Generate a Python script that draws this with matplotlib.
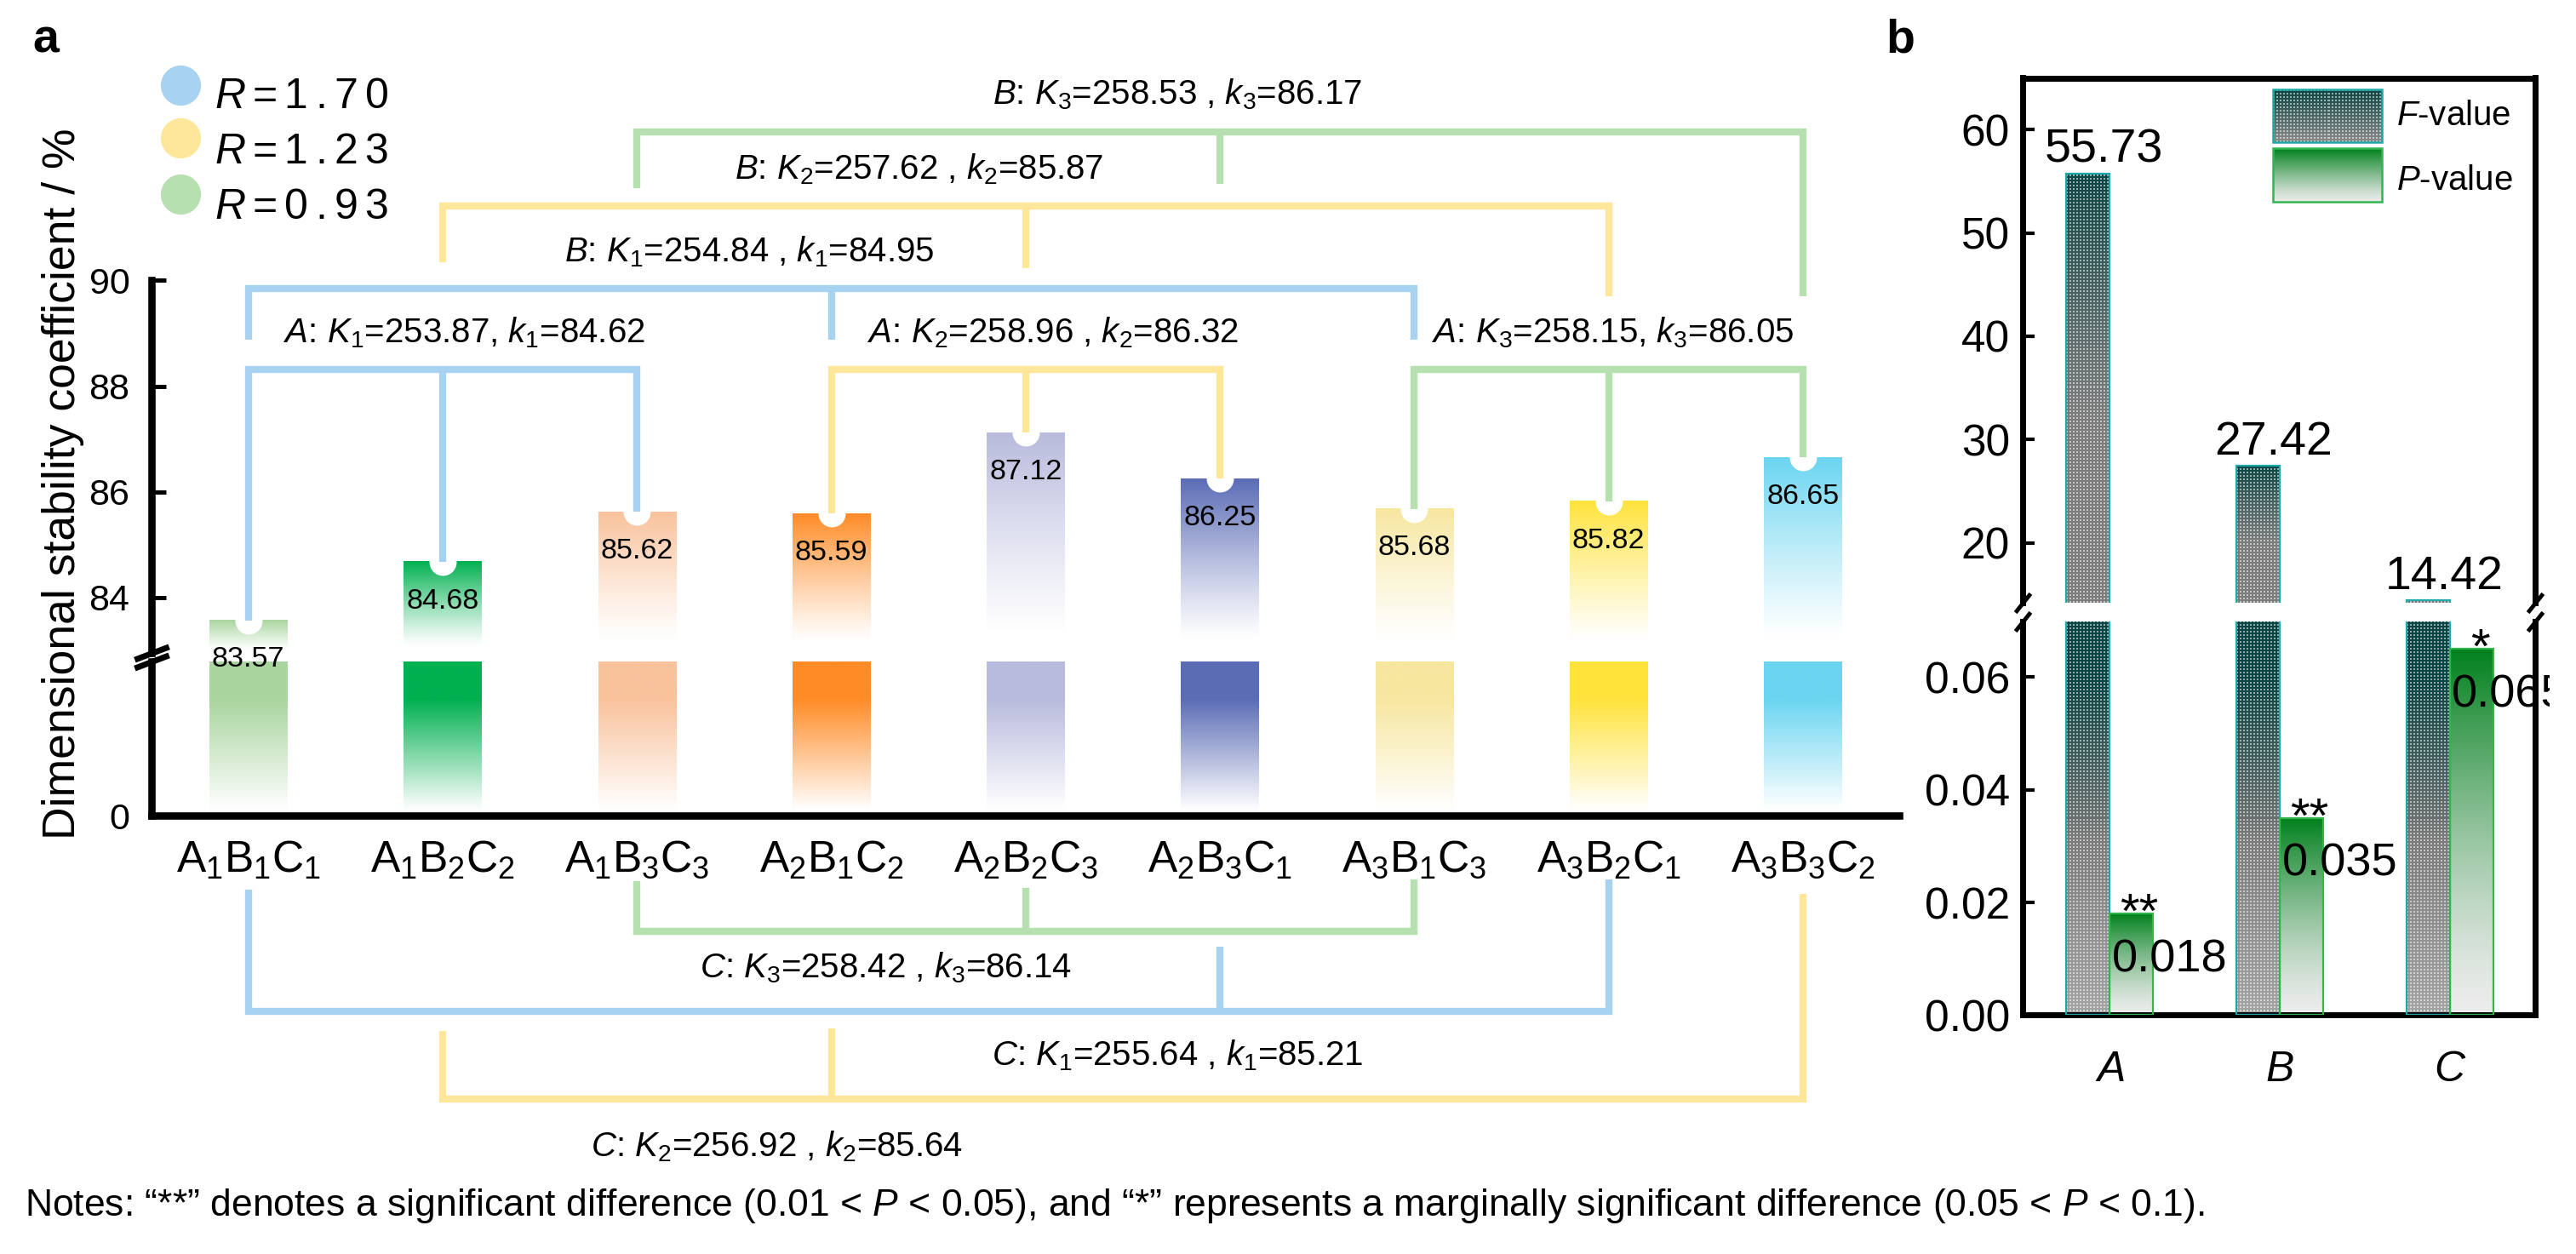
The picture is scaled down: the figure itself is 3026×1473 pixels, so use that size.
import numpy as np
import matplotlib
matplotlib.use("Agg")
import matplotlib.pyplot as plt
from matplotlib.colors import to_rgb
from matplotlib.transforms import Bbox

plt.rcParams['font.family'] = ['Liberation Sans', 'DejaVu Sans']
plt.rcParams['mathtext.fontset'] = 'custom'
plt.rcParams['mathtext.rm'] = 'Liberation Sans'
plt.rcParams['mathtext.it'] = 'Liberation Sans:italic'
plt.rcParams['mathtext.bf'] = 'Liberation Sans:bold'

# ---------------- data ----------------
treatments = [r'$\mathrm{A_1B_1C_1}$', r'$\mathrm{A_1B_2C_2}$', r'$\mathrm{A_1B_3C_3}$',
              r'$\mathrm{A_2B_1C_2}$', r'$\mathrm{A_2B_2C_3}$', r'$\mathrm{A_2B_3C_1}$',
              r'$\mathrm{A_3B_1C_3}$', r'$\mathrm{A_3B_2C_1}$', r'$\mathrm{A_3B_3C_2}$']
stability = [83.57, 84.68, 85.62, 85.59, 87.12, 86.25, 85.68, 85.82, 86.65]
level_A = [1, 1, 1, 2, 2, 2, 3, 3, 3]
level_B = [1, 2, 3, 1, 2, 3, 1, 2, 3]
level_C = [1, 2, 3, 2, 3, 1, 3, 1, 2]
K_A = [253.87, 258.96, 258.15]
k_A = [84.62, 86.32, 86.05]
K_B = [254.84, 257.62, 258.53]
k_B = [84.95, 85.87, 86.17]
K_C = [255.64, 256.92, 258.42]
k_C = [85.21, 85.64, 86.14]
R_values = [1.70, 1.23, 0.93]

factors = ['A', 'B', 'C']
F_values = [55.73, 27.42, 14.42]
P_values = [0.018, 0.035, 0.065]
significance = ['**', '**', '*']

# ---------------- style ----------------
bar_colors = ['#a9d59f', '#00b050', '#f9c29c', '#ff8b26', '#b9bbdd',
              '#5b6cb5', '#f7e7a0', '#ffe33c', '#6bd5f1']
level_colors = ['#a7d3f0', '#fee79a', '#b7e0b1']
teal = '#0b4543'
green = '#00801c'

W, H = 3026, 1473
fig = plt.figure(figsize=(W / 100, H / 100), dpi=100)


def fx(px):
    return px / W


def fy(py):
    return 1 - py / H


def mix(c0, c1, w):
    c0 = np.array(to_rgb(c0))
    c1 = np.array(to_rgb(c1))
    w = np.asarray(w, dtype=float)[..., None]
    return c0 * (1 - w) + c1 * w


AL, AR = 177.5, 2231.0
ax_lo = fig.add_axes([fx(AL), fy(958.0), (AR - AL) / W, (958.0 - 777.0) / H])
ax_up = fig.add_axes([fx(AL), fy(767.0), (AR - AL) / W, (767.0 - 329.5) / H])
ax_lo.set_zorder(1)
ax_up.set_zorder(2)
bx_up = fig.add_axes([fx(2376.3), fy(708.0), (2977.9 - 2376.3) / W, (708.0 - 91.5) / H])
bx_lo = fig.add_axes([fx(2376.3), fy(1192.4), (2977.9 - 2376.3) / W, (1192.4 - 730.4) / H])

A_XLIM = (-0.50, 8.495)
UP_YLIM = (82.95, 90)
LO_YLIM = (0, 10)
B_XLIM = (-0.51, 2.5)
BUP_YLIM = (14.19, 65)
BLO_YLIM = (0, 0.0698)


def set_limits():
    for a in (ax_up, ax_lo):
        a.set_xlim(*A_XLIM)
    ax_up.set_ylim(*UP_YLIM)
    ax_lo.set_ylim(*LO_YLIM)
    for a in (bx_up, bx_lo):
        a.set_xlim(*B_XLIM)
    bx_up.set_ylim(*BUP_YLIM)
    bx_lo.set_ylim(*BLO_YLIM)


set_limits()

# ---------------- panel a : bars ----------------
x = np.arange(len(stability))
bar_w = 0.40
for ax, kind in ((ax_up, 'up'), (ax_lo, 'lo')):
    bars = ax.bar(x, stability, width=bar_w, color='none', edgecolor='none', zorder=2)
    ylo, yhi = ax.get_ylim()
    for i, b in enumerate(bars):
        top = min(b.get_height(), yhi)
        t = np.linspace(0, 1, 400)
        if kind == 'up':
            w = np.clip((t - 0.08) / 0.92, 0, 1) ** 1.15
        else:
            w = np.clip((t - 0.04) / 0.72, 0, 1)
        img = mix('white', bar_colors[i], w)[:, None, :]
        ax.imshow(img, extent=[b.get_x(), b.get_x() + b.get_width(), ylo, top],
                  origin='lower', aspect='auto', interpolation='bilinear', zorder=2)

# notches
ax_up.plot(x, stability, ls='none', marker='o', ms=23, mfc='white', mec='white',
           mew=0, zorder=3)

# value labels
for i, v in enumerate(stability):
    ax_up.annotate(f'{v:.2f}', (i, v), xytext=(0, -39.5), textcoords='offset points',
                   ha='center', va='baseline', fontsize=24.5, zorder=7,
                   annotation_clip=False)

# ---------------- panel a : brackets ----------------
LW = 6
FS_BR = 29
line_kw = dict(lw=LW, solid_joinstyle='miter', solid_capstyle='butt', clip_on=False, zorder=5)


def members(levels, lev):
    return [i for i in range(len(levels)) if levels[i] == lev]


# factor A (connects to bar tops)
A_h = 88.32
A_label_x = [1.11, 4.14, 7.02]
A_label_y = 88.82
A_sep = [', ', ' , ', ', ']
for li in range(3):
    idx = members(level_A, li + 1)
    c = level_colors[li]
    ax_up.plot([idx[0], idx[0], idx[-1], idx[-1]],
               [stability[idx[0]], A_h, A_h, stability[idx[-1]]], color=c, **line_kw)
    for m in idx[1:-1]:
        ax_up.plot([m, m], [A_h, stability[m]], color=c, **line_kw)
    ax_up.text(A_label_x[li], A_label_y,
               f'$A$: $K_{li+1}$={K_A[li]:.2f}{A_sep[li]}$k_{li+1}$={k_A[li]:.2f}',
               ha='center', va='baseline', fontsize=FS_BR, zorder=7)

# factor B (upper stubs)
B_h = [89.84, 91.41, 92.82]
B_stub = [[88.88, 88.88, 88.88], [90.34, 90.23, 89.70], [91.75, 91.83, 89.70]]
B_label_x = [2.58, 3.45, 4.78]
B_label_y = [90.35, 91.92, 93.34]
for li in range(3):
    idx = members(level_B, li + 1)
    c = level_colors[li]
    ends = B_stub[li]
    ax_up.plot([idx[0], idx[0], idx[-1], idx[-1]], [ends[0], B_h[li], B_h[li], ends[-1]],
               color=c, **line_kw)
    for m, e in zip(idx[1:-1], ends[1:-1]):
        ax_up.plot([m, m], [B_h[li], e], color=c, **line_kw)
    ax_up.text(B_label_x[li], B_label_y[li],
               f'$B$: $K_{li+1}$={K_B[li]:.2f} , $k_{li+1}$={k_B[li]:.2f}',
               ha='center', va='baseline', fontsize=FS_BR, zorder=7)

# factor C (below x axis, in lower-axis units)
C_h = [-12.69, -18.40, -7.50]
C_stub = [[-4.82, -8.52, -4.16], [-13.97, -13.79, -5.10], [-4.27, -4.71, -4.16]]
C_label_x = [4.78, 2.72, 3.28]
C_label_y = [-16.19, -22.10, -10.53]
for li in range(3):
    idx = members(level_C, li + 1)
    c = level_colors[li]
    ends = C_stub[li]
    ax_lo.plot([idx[0], idx[0], idx[-1], idx[-1]], [ends[0], C_h[li], C_h[li], ends[-1]],
               color=c, **line_kw)
    for m, e in zip(idx[1:-1], ends[1:-1]):
        ax_lo.plot([m, m], [C_h[li], e], color=c, **line_kw)
    ax_lo.text(C_label_x[li], C_label_y[li],
               f'$C$: $K_{li+1}$={K_C[li]:.2f} , $k_{li+1}$={k_C[li]:.2f}',
               ha='center', va='baseline', fontsize=FS_BR, zorder=7)

# ---------------- panel a : axes style ----------------
SPW = 6.2
for a in (ax_up, ax_lo):
    a.set_facecolor('none')
    for s in ('top', 'right'):
        a.spines[s].set_visible(False)
    a.spines['left'].set_linewidth(SPW)
ax_up.spines['bottom'].set_visible(False)
ax_lo.spines['bottom'].set_linewidth(SPW)
ax_up.set_yticks([84, 86, 88, 90])
ax_up.tick_params(axis='y', direction='in', length=12, width=3.6, labelsize=31, pad=18)
ax_up.tick_params(axis='x', bottom=False, labelbottom=False)
ax_lo.set_yticks([0])
ax_lo.tick_params(axis='y', direction='in', length=12, width=3.6, labelsize=31, pad=18)
ax_lo.set_xticks(x)
ax_lo.set_xticklabels(treatments)
ax_lo.tick_params(axis='x', direction='in', length=11, width=3.6, labelsize=37, pad=20)

brk = dict(marker=[(-1, -0.38), (1, 0.38)], markersize=29, linestyle='none', color='k',
           mec='k', mew=5, clip_on=False, zorder=10)
ax_up.plot([0], [0], transform=ax_up.transAxes, **brk)
ax_lo.plot([0], [1], transform=ax_lo.transAxes, **brk)

# legend of panel a
leg_y = [100.0, 162.3, 227.7]
leg_base = [127, 192, 257]
for li in range(3):
    fig.lines.append(plt.Line2D([fx(211.7)], [fy(leg_y[li])], transform=fig.transFigure,
                                marker='o', ms=34, mfc=level_colors[li], mec='none',
                                ls='none'))
    r_txt = '\u2006'.join(f'{R_values[li]:.2f}')
    fig.text(fx(252), fy(leg_base[li]), '$R$\u2006=\u2006' + r_txt, fontsize=36,
             va='baseline', ha='left')

fig.text(fx(74), fy(568), 'Dimensional stability coefficient / %', rotation=90,
         fontsize=38.5, ha='center', va='center')
fig.text(fx(53.5), fy(62), 'a', fontsize=40, weight='bold', ha='center', va='baseline')
fig.text(fx(2232.6), fy(61), 'b', fontsize=40, weight='bold', ha='center', va='baseline')

# ---------------- panel b ----------------
xb = np.arange(len(factors))
bw = 0.255


def texture_image(ax, x0, x1, y0, y1, sfunc, gfunc, z=2):
    p0 = ax.transData.transform((x0, y0))
    p1 = ax.transData.transform((x1, y1))
    wpx = max(int(round(abs(p1[0] - p0[0]))), 1)
    hpx = max(int(round(abs(p1[1] - p0[1]))), 1)
    t = (np.arange(hpx) + 0.5) / hpx
    s = sfunc(t)
    base = gfunc(t) * (1 - s[:, None]) + np.array(to_rgb(teal)) * s[:, None]
    ii, jj = np.meshgrid(np.arange(hpx), np.arange(wpx), indexing='ij')
    dots = (((ii % 4) < 2) & ((jj % 4) < 2)).astype(float)[..., None]
    img = base[:, None, :] * (1 - 0.55 * dots) + 0.55 * dots
    ax.imshow(img, extent=[x0, x1, y0, y1], origin='lower', aspect='auto',
              interpolation='nearest', zorder=z)


for ax, kind in ((bx_up, 'up'), (bx_lo, 'lo')):
    fbars = ax.bar(xb - bw / 2, F_values, bw, color='none', edgecolor='#1fa8a8', lw=1.6,
                   zorder=3)
    pbars = ax.bar(xb + bw / 2, P_values, bw, color='none', edgecolor='#33b54d', lw=1.6,
                   zorder=3)
    ylo, yhi = ax.get_ylim()
    for b in fbars:
        y0 = max(ylo, b.get_y())
        y1 = min(yhi, b.get_y() + b.get_height())
        if y1 <= y0:
            continue
        if kind == 'up':
            sf = lambda t: np.clip((t - 0.42) / 0.58, 0, 1) ** 1.2
            gf = lambda t: mix('#7c7c7c', '#7c7c7c', t)
        else:
            sf = lambda t: np.clip((t - 0.45) / 0.40, 0, 1)
            gf = lambda t: mix('#a4a4a4', '#767676', np.clip(t / 0.5, 0, 1))
        texture_image(ax, b.get_x(), b.get_x() + b.get_width(), y0, y1, sf, gf)
    if kind == 'lo':
        for b in pbars:
            t = np.linspace(0, 1, 400)
            img = mix('#ececec', green, t ** 1.4)[:, None, :]
            ax.imshow(img, extent=[b.get_x(), b.get_x() + b.get_width(), 0, b.get_height()],
                      origin='lower', aspect='auto', interpolation='bilinear', zorder=2)

set_limits()

edge_clip = Bbox.from_extents(0, 0, 2995, H)
for i, v in enumerate(F_values):
    bx_up.annotate(f'{v:.2f}', (i - 0.035, v), xytext=(0, 9.5), textcoords='offset points',
                   ha='center', va='baseline', fontsize=40, annotation_clip=False, zorder=8)
for i, v in enumerate(P_values):
    t_ = bx_lo.annotate(f'{v:.3f}', (i + 0.012, v), xytext=(0, -49),
                        textcoords='offset points', ha='left', va='baseline', fontsize=39,
                        annotation_clip=False, zorder=8)
    t_.set_clip_on(True)
    t_.set_clip_box(edge_clip)
    bx_lo.annotate(significance[i], (i + 0.175, v), xytext=(0, -12),
                   textcoords='offset points', ha='center', va='baseline', fontsize=42,
                   annotation_clip=False, zorder=8)


# legend of panel b (axes fraction -> data)
def frac_to_data(ax, fxa, fya):
    x0, x1 = ax.get_xlim()
    y0, y1 = ax.get_ylim()
    return x0 + fxa * (x1 - x0), y0 + fya * (y1 - y0)


lx0, ly0 = frac_to_data(bx_up, 0.488, 0.8775)
lx1, ly1 = frac_to_data(bx_up, 0.701, 0.978)
texture_image(bx_up, lx0, lx1, ly0, ly1, lambda t: np.clip(t, 0, 1) ** 1.1,
              lambda t: mix('#8a8a8a', '#7c7c7c', t), z=6)
bx_up.add_patch(plt.Rectangle((lx0, ly0), lx1 - lx0, ly1 - ly0, fill=False,
                              edgecolor='#1fa8a8', lw=1.8, zorder=7))
px0, py0 = frac_to_data(bx_up, 0.488, 0.764)
px1, py1 = frac_to_data(bx_up, 0.701, 0.866)
tt = np.linspace(0, 1, 200)
bx_up.imshow(mix('#ececec', green, tt ** 1.2)[:, None, :], extent=[px0, px1, py0, py1],
             origin='lower', aspect='auto', interpolation='bilinear', zorder=6)
bx_up.add_patch(plt.Rectangle((px0, py0), px1 - px0, py1 - py0, fill=False,
                              edgecolor='#33b54d', lw=1.8, zorder=7))
bx_up.text(0.729, 0.910, '$F$-value', transform=bx_up.transAxes, fontsize=29,
           va='baseline', ha='left')
bx_up.text(0.729, 0.787, '$P$-value', transform=bx_up.transAxes, fontsize=29,
           va='baseline', ha='left')
set_limits()

BSP = 5
for s in ('top', 'left', 'right'):
    bx_up.spines[s].set_linewidth(BSP)
bx_up.spines['bottom'].set_visible(False)
for s in ('bottom', 'left', 'right'):
    bx_lo.spines[s].set_linewidth(BSP)
bx_lo.spines['top'].set_visible(False)
bx_up.set_yticks([20, 30, 40, 50, 60])
bx_up.tick_params(axis='y', direction='in', length=10, width=3, labelsize=37, pad=11)
bx_up.tick_params(axis='x', bottom=False, labelbottom=False)
bx_lo.set_yticks([0, 0.02, 0.04, 0.06])
bx_lo.set_yticklabels([f'{v:.2f}' for v in [0, 0.02, 0.04, 0.06]])
bx_lo.tick_params(axis='y', direction='in', length=10, width=3, labelsize=37, pad=11)
bx_lo.set_xticks(xb)
bx_lo.set_xticklabels([f'${f}$' for f in factors])
bx_lo.tick_params(axis='x', direction='in', length=9, width=3, labelsize=36, pad=30)

bbrk = dict(marker=[(-0.8, -1), (0.8, 1)], markersize=16, linestyle='none', color='k',
            mec='k', mew=3.5, clip_on=False, zorder=10)
bx_up.plot([0, 1], [0, 0], transform=bx_up.transAxes, **bbrk)
bx_lo.plot([0, 1], [1, 1], transform=bx_lo.transAxes, **bbrk)

fig.text(fx(29), fy(1428),
         'Notes: \u201c**\u201d denotes a significant difference (0.01 < $P$ < 0.05), and '
         '\u201c*\u201d represents a marginally significant difference (0.05 < $P$ < 0.1).',
         fontsize=32, va='baseline', ha='left')

fig.savefig('out.png', dpi=100)
